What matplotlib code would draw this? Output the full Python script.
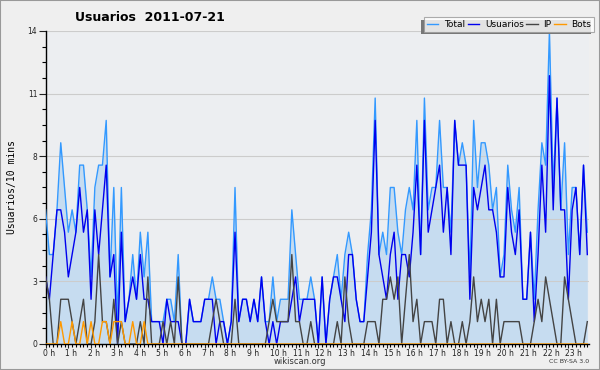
import matplotlib
matplotlib.use("Agg")
import matplotlib.pyplot as plt
from matplotlib.patches import Rectangle
from matplotlib.ticker import MultipleLocator, FixedLocator
from matplotlib.transforms import ScaledTranslation

# 10-minute slots, 144 per day
usuarios = [3, 2, 4, 6, 6, 5, 3, 4, 5, 7,
            5, 6, 2, 6, 4, 6, 8, 3, 4, 0,
            5, 1, 2, 3, 2, 4, 2, 2, 1, 1,
            1, 0, 2, 1, 1, 1, 0, 0, 2, 1,
            1, 1, 2, 2, 2, 0, 1, 1, 0, 1,
            5, 1, 2, 2, 1, 2, 1, 3, 1, 0,
            1, 0, 1, 1, 1, 2, 3, 1, 2, 2,
            2, 2, 0, 3, 0, 2, 3, 3, 2, 1,
            4, 4, 2, 1, 1, 3, 5, 10, 4, 3,
            2, 4, 5, 2, 4, 4, 3, 5, 8, 4,
            10, 5, 6, 7, 8, 5, 7, 4, 10, 8,
            8, 8, 2, 7, 6, 7, 8, 6, 6, 5,
            3, 3, 7, 5, 4, 6, 2, 2, 5, 1,
            4, 8, 5, 12, 6, 11, 6, 6, 2, 6,
            7, 4, 8, 4]
ip = [3, 2, 0, 0, 2, 2, 2, 1, 0, 1,
      2, 0, 0, 1, 4, 1, 1, 0, 2, 0,
      1, 0, 0, 0, 0, 1, 0, 3, 0, 0,
      0, 1, 0, 1, 0, 3, 0, 0, 0, 0,
      0, 0, 0, 0, 1, 2, 1, 0, 0, 0,
      2, 0, 0, 0, 0, 0, 0, 0, 0, 1,
      2, 1, 1, 1, 1, 4, 1, 1, 0, 0,
      1, 0, 0, 0, 0, 0, 0, 1, 0, 3,
      1, 0, 0, 0, 0, 1, 1, 1, 0, 2,
      2, 3, 2, 3, 0, 2, 4, 1, 2, 0,
      1, 1, 1, 0, 2, 2, 0, 1, 0, 0,
      1, 0, 1, 3, 1, 2, 1, 2, 0, 2,
      0, 1, 1, 1, 1, 1, 0, 0, 0, 1,
      2, 1, 3, 2, 1, 0, 0, 3, 2, 1,
      0, 0, 0, 1]
bots = [0, 0, 0, 0, 1, 0, 0, 1, 0, 0,
        1, 0, 1, 0, 0, 1, 1, 0, 1, 1,
        1, 0, 0, 1, 0, 0, 1, 0, 0, 0] + [0] * 114
total = [6, 4, 4, 6, 9, 7, 5, 6, 5, 8,
         8, 6, 3, 7, 8, 8, 10, 3, 7, 1,
         7, 1, 2, 4, 2, 5, 3, 5, 1, 1,
         1, 1, 2, 2, 1, 4, 0, 0, 2, 1,
         1, 1, 2, 2, 3, 2, 2, 1, 0, 1,
         7, 1, 2, 2, 1, 2, 1, 3, 1, 1,
         3, 1, 2, 2, 2, 6, 4, 2, 2, 2,
         3, 2, 0, 3, 0, 2, 3, 4, 2, 4,
         5, 4, 2, 1, 1, 4, 6, 11, 4, 5,
         4, 7, 7, 5, 4, 6, 7, 6, 10, 4,
         11, 6, 7, 7, 10, 7, 7, 5, 10, 8,
         9, 8, 3, 10, 7, 9, 9, 8, 6, 7,
         3, 4, 8, 6, 5, 7, 2, 2, 5, 2,
         6, 9, 8, 14, 7, 11, 6, 9, 4, 7,
         7, 4, 8, 5]
hour_labels = ["%d h" % h for h in range(24)]

x = list(range(len(total)))

fig = plt.figure(figsize=(6, 3.7), dpi=100, facecolor="#efefef")
ax = fig.add_axes([0.076, 0.0703, 0.906, 0.846])
ax.set_facecolor("#eceef1")

ax.fill_between(x, total, 0, color="#c6dcf0", lw=0, zorder=1)
ax.plot(x, total, color="#3399ff", lw=1, zorder=3, label="Total")
ax.plot(x, usuarios, color="#0000ee", lw=1, zorder=4, label="Usuarios")
ax.plot(x, ip, color="#444444", lw=1, zorder=5, label="IP")
ax.plot(x, bots, color="#ff9900", lw=1, zorder=6, label="Bots")

ax.set_xlim(0, 143.5)
ax.set_ylim(0, 14)

yt = [0, 2.8, 5.6, 8.4, 11.2, 14]
ax.yaxis.set_major_locator(FixedLocator(yt))
ax.set_yticklabels(["0", "3", "6", "8", "11", "14"])
ax.yaxis.set_minor_locator(MultipleLocator(0.7))
ax.grid(axis="y", color="#cccccc", lw=0.8, zorder=0)

ax.xaxis.set_major_locator(FixedLocator([6 * h for h in range(24)]))
ax.set_xticklabels(hour_labels)
ax.xaxis.set_minor_locator(MultipleLocator(1))

ax.tick_params(axis="y", which="major", length=5, width=0.8, labelsize=5.5,
               pad=1, colors="#222222")
ax.tick_params(axis="y", which="minor", length=3, width=0.8)
ax.tick_params(axis="x", which="major", length=3, width=0.8, labelsize=5.5,
               pad=0.5, colors="#222222")
ax.tick_params(axis="x", which="minor", length=2.5, width=0.8)
shift = ScaledTranslation(-3 / 100, 0, fig.dpi_scale_trans)
for lbl in ax.get_xticklabels():
    lbl.set_horizontalalignment("left")
    lbl.set_transform(lbl.get_transform() + shift)

for s in ["top", "right"]:
    ax.spines[s].set_visible(False)
ax.spines["left"].set_linewidth(1)
ax.spines["bottom"].set_linewidth(1)

ax.set_ylabel("Usuarios/10 mins", family="DejaVu Sans Mono", fontsize=7,
              labelpad=8)

fig.text(0.25, 0.954, "Usuarios  2011-07-21", ha="center", va="center",
         fontsize=9, fontweight="bold")

leg = fig.legend(loc="upper right", bbox_to_anchor=(0.99, 0.953), ncol=4,
                 fontsize=6.5, frameon=True, fancybox=False, shadow=False,
                 handlelength=1.3, handletextpad=0.6, columnspacing=0.3,
                 borderpad=0.3, borderaxespad=0)
leg.get_frame().set_edgecolor("#999999")
leg.get_frame().set_linewidth(0.8)
leg.set_zorder(10)

# shadow: offset down-left of the legend box
fig.canvas.draw()
bb = leg.get_window_extent().transformed(fig.transFigure.inverted())
dx, dy = 3 / 600, 2.5 / 370
fig.patches.append(Rectangle((bb.x0 - dx, bb.y0 - dy), bb.width, bb.height,
                             transform=fig.transFigure, fc="#777777",
                             ec="none", zorder=9))

fig.text(0.5, 0.024, "wikiscan.org", ha="center", va="center", fontsize=6,
         color="#333333")
fig.text(0.982, 0.022, "CC BY-SA 3.0", ha="right", va="center", fontsize=4.5,
         color="#333333")

fig.patches.append(Rectangle((0, 0), 1, 1, transform=fig.transFigure,
                             fill=False, ec="#999999", lw=1.5))

fig.savefig("out.png", dpi=100, facecolor=fig.get_facecolor())
